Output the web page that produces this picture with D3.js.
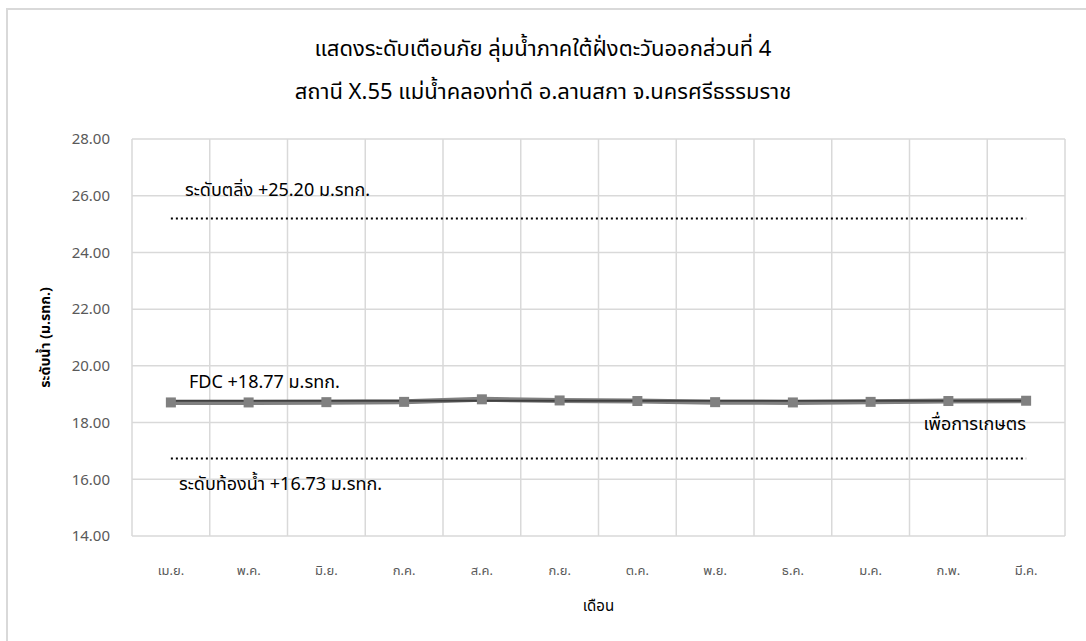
<!DOCTYPE html>
<html><head><meta charset="utf-8">
<script src="https://cdn.jsdelivr.net/npm/d3@7"></script>
<style>
body{margin:0;background:#fff;}
text{font-family:"Noto Sans Thai","Leelawadee UI",Tahoma,"Noto Sans",sans-serif;}
</style></head>
<body><svg id="c" width="1086" height="641"></svg>
<script>
const months = ["เม.ย.","พ.ค.","มิ.ย.","ก.ค.","ส.ค.","ก.ย.","ต.ค.","พ.ย.","ธ.ค.","ม.ค.","ก.พ.","มี.ค."];
const waterLevel = [18.71,18.71,18.72,18.73,18.82,18.78,18.76,18.72,18.71,18.73,18.76,18.77];
const fdcLevel = [18.77,18.77,18.77,18.77,18.77,18.77,18.77,18.77,18.77,18.77,18.77,18.77];
const bankLevel = [25.20,25.20,25.20,25.20,25.20,25.20,25.20,25.20,25.20,25.20,25.20,25.20];
const bedLevel = [16.73,16.73,16.73,16.73,16.73,16.73,16.73,16.73,16.73,16.73,16.73,16.73];
const yTicks = [14,16,18,20,22,24,26,28];
const titles = ["แสดงระดับเตือนภัย ลุ่มน้ำภาคใต้ฝั่งตะวันออกส่วนที่ 4","สถานี X.55 แม่น้ำคลองท่าดี อ.ลานสกา จ.นครศรีธรรมราช"];

const svg = d3.select("#c");
svg.append("rect").attr("x",7).attr("y",9).attr("width",1100).attr("height",700)
  .attr("fill","#fff").attr("stroke","#d9d9d9").attr("stroke-width",2);

const L=132,R=1065,T=139,B=536;
const x = d3.scaleBand().domain(months).range([L,R]);
const y = d3.scaleLinear().domain([14,28]).range([B,T]);
const cx = m => x(m)+x.bandwidth()/2;

// grid
const g = svg.append("g");
g.selectAll(".hg").data(yTicks).join("line")
  .attr("x1",L).attr("x2",R).attr("y1",d=>y(d)).attr("y2",d=>y(d))
  .attr("stroke","#d9d9d9").attr("stroke-width",1.5);
const vb = months.map(m=>x(m)).concat([R]);
g.selectAll(".vg").data(vb).join("line")
  .attr("x1",d=>d).attr("x2",d=>d).attr("y1",T).attr("y2",B)
  .attr("stroke","#d9d9d9").attr("stroke-width",1.5);

// axes labels
const yAxis = d3.axisLeft(y).tickValues(yTicks).tickFormat(d3.format(".2f")).tickSize(0).tickPadding(22);
const ya = svg.append("g").attr("transform",`translate(${L},0)`).call(yAxis);
ya.select(".domain").remove();
ya.selectAll("text").attr("font-size",15).attr("fill","#595959").attr("font-family","Tahoma,\"DejaVu Sans\",sans-serif");

const xAxis = d3.axisBottom(x).tickSize(0).tickPadding(30);
const xa = svg.append("g").attr("transform",`translate(0,${B})`).call(xAxis);
xa.select(".domain").remove();
xa.selectAll("text").attr("font-size",13).attr("fill","#595959");

// lines
const line = d3.line().x((d,i)=>cx(months[i])).y(d=>y(d));
svg.append("path").datum(bankLevel).attr("d",line).attr("fill","none")
  .attr("stroke","#000").attr("stroke-width",2).attr("stroke-dasharray","2,3");
svg.append("path").datum(bedLevel).attr("d",line).attr("fill","none")
  .attr("stroke","#000").attr("stroke-width",2).attr("stroke-dasharray","2,3");
svg.append("path").datum(waterLevel).attr("d",line).attr("fill","none")
  .attr("stroke","#808080").attr("stroke-width",5);
svg.append("path").datum(fdcLevel).attr("d",line).attr("fill","none")
  .attr("stroke","#404040").attr("stroke-width",2);
svg.selectAll(".mk").data(waterLevel).join("rect")
  .attr("x",(d,i)=>cx(months[i])-5).attr("y",d=>y(d)-5)
  .attr("width",10).attr("height",10).attr("fill","#808080");

// annotations
const ann = [
  {t:"ระดับตลิ่ง +25.20 ม.รทก.", x:185, y:196, a:"start"},
  {t:"FDC +18.77 ม.รทก.", x:189, y:388, a:"start"},
  {t:"เพื่อการเกษตร", x:1026, y:430, a:"end"},
  {t:"ระดับท้องน้ำ +16.73 ม.รทก.", x:179, y:490, a:"start"}
];
svg.selectAll(".ann").data(ann).join("text")
  .attr("x",d=>d.x).attr("y",d=>d.y).attr("text-anchor",d=>d.a)
  .attr("font-size",18).attr("fill","#000").text(d=>d.t);

// titles
svg.selectAll(".tt").data(titles).join("text")
  .attr("x",543).attr("y",(d,i)=>56+i*43).attr("text-anchor","middle")
  .attr("font-size",22).attr("fill","#000").text(d=>d);

svg.append("text").attr("x",(L+R)/2).attr("y",611).attr("text-anchor","middle")
  .attr("font-size",15).attr("fill","#000").text("เดือน");
svg.append("text").attr("transform",`translate(50,${(T+B)/2}) rotate(-90)`)
  .attr("text-anchor","middle").attr("font-size",14).attr("font-weight","bold")
  .attr("fill","#000").text("ระดับน้ำ (ม.รทก.)");
</script></body></html>
